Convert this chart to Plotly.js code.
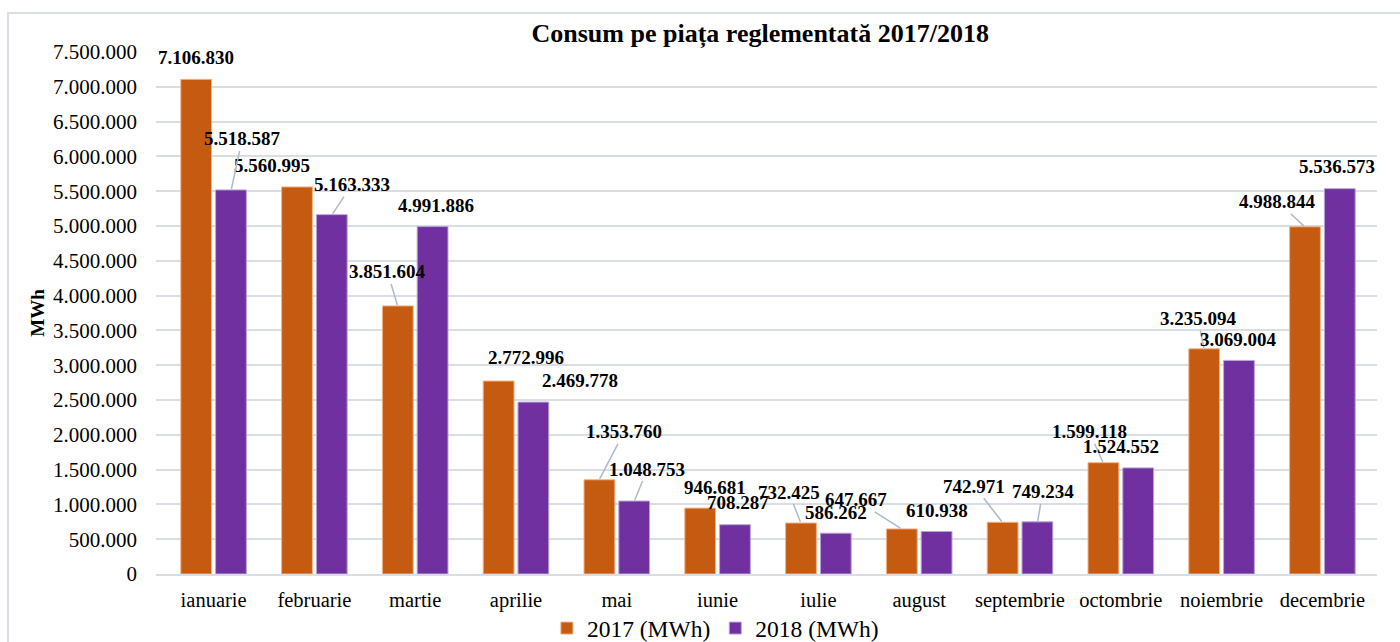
<!DOCTYPE html>
<html>
<head>
<meta charset="utf-8">
<script src="https://cdn.plot.ly/plotly-3.0.1.min.js"></script>
<style>
html,body{margin:0;padding:0;background:#fff;}
#wrap{position:relative;width:1400px;height:642px;overflow:hidden;}
#chart{width:1400px;height:642px;}
#frame{position:absolute;left:7px;top:12px;width:1400px;height:700px;border:2px solid #d9dde4;box-sizing:border-box;pointer-events:none;}
</style>
</head>
<body>
<div id="wrap"><div id="chart"></div><div id="frame"></div></div>
<script>
const months = ["ianuarie","februarie","martie","aprilie","mai","iunie","iulie","august","septembrie","octombrie","noiembrie","decembrie"];
const values2017 = [7106830,5560995,3851604,2772996,1353760,946681,732425,647667,742971,1599118,3235094,4988844];
const values2018 = [5518587,5163333,4991886,2469778,1048753,708287,586262,610938,749234,1524552,3069004,5536573];
const seriesNames = ["2017 (MWh)","2018 (MWh)"];
const yTicks = [0,500000,1000000,1500000,2000000,2500000,3000000,3500000,4000000,4500000,5000000,5500000,6000000,6500000,7000000,7500000];

// label placement (pixel offsets from bar top centre) and whether a leader line is drawn
const off2017 = [[0,-22,0],[-25,-21,0],[-10,-34,1],[28,-24,0],[25,-48,1],[15,-21,0],[-12,-31,1],[-46,-29,1],[-28,-36,1],[-14,-31,1],[-6,-30,1],[-27,-25,1]];
const off2018 = [[11,-51,1],[20,-30,1],[3,-21,0],[46,-22,0],[13,-32,1],[3,-22,0],[0,-21,0],[0,-21,0],[5,-30,1],[-17,-21,0],[-1,-21,0],[-3,-22,0]];

const C17 = "#C55A11", C18 = "#7030A0";
const serif = "Liberation Serif";

function fmt(v){ return String(v).replace(/\B(?=(\d{3})+(?!\d))/g, "."); }

const traces = [
  {type:"bar", name:seriesNames[0], x:months, y:values2017, marker:{color:C17, line:{color:"#f4b183", width:1}}, hoverinfo:"skip"},
  {type:"bar", name:seriesNames[1], x:months, y:values2018, marker:{color:C18, line:{color:"#b4a7d6", width:1}}, hoverinfo:"skip"}
];

const annotations = [];
function addLabels(vals, offs, shift){
  vals.forEach((v,i)=>{
    const o = offs[i];
    const a = {x:months[i], y:v, xref:"x", yref:"y", text:"<b>"+fmt(v)+"</b>",
      font:{family:serif, size:19, color:"#000"}, xshift:shift};
    if(o[2]){
      Object.assign(a,{showarrow:true, arrowhead:0, arrowwidth:1.5, arrowcolor:"#adb9ca", ax:o[0], ay:o[1], standoff:1});
    } else {
      Object.assign(a,{showarrow:false, xanchor:"center", yanchor:"middle", xshift:shift+o[0], yshift:-o[1]});
    }
    annotations.push(a);
  });
}
addLabels(values2017, off2017, -17.6);
addLabels(values2018, off2018, 17.6);

const layout = {
  width:1400, height:642,
  margin:{l:156, r:23, t:52, b:68, autoexpand:false},
  paper_bgcolor:"rgba(0,0,0,0)", plot_bgcolor:"#fff",
  barmode:"group", bargap:0.31, bargroupgap:0.114,
  title:{text:"<b>Consum pe piața reglementată 2017/2018</b>", font:{family:serif, size:26, color:"#000"}, xref:"container", x:0.543, xanchor:"center", y:0.948, yanchor:"middle"},
  font:{family:serif, color:"#000"},
  xaxis:{type:"category", automargin:false, tickfont:{family:serif, size:20.5, color:"#000"}, showgrid:false, showline:true, linecolor:"#d9dde4", linewidth:2, ticks:"", ticklabelstandoff:6, fixedrange:true},
  yaxis:{automargin:false, range:[0,7500000], tickvals:yTicks, ticktext:yTicks.map(fmt), tickfont:{family:serif, size:21, color:"#000"},
    showgrid:true, gridcolor:"#d9dde4", gridwidth:2, zeroline:false, showline:false, ticks:"", ticklabelstandoff:18,
    title:{text:"<b>MWh</b>", font:{family:serif, size:19, color:"#000"}, standoff:3}, fixedrange:true},
  legend:{orientation:"h", xref:"container", x:0.511, xanchor:"center", y:-0.104, yanchor:"middle", font:{family:serif, size:23.5, color:"#000"}, itemwidth:30, traceorder:"normal"},
  annotations:annotations,
  showlegend:true
};

Plotly.newPlot("chart", traces, layout, {displayModeBar:false, staticPlot:true});
</script>
</body>
</html>
